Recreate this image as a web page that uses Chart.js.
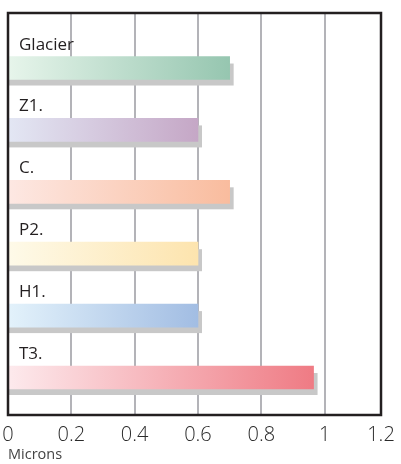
<!DOCTYPE html>
<html>
<head>
<meta charset="utf-8">
<script src="https://cdn.jsdelivr.net/npm/chart.js@4.4.3/dist/chart.umd.min.js"></script>
<style>
  html, body { margin: 0; padding: 0; background: #fff; }
  #wrap { width: 401px; height: 464px; position: relative; }
</style>
</head>
<body>
<div id="wrap"><canvas id="chart"></canvas></div>
<script>
// Dati
const categories = ['Glacier', 'Z1.', 'C.', 'P2.', 'H1.', 'T3.'];
const values     = [0.70, 0.60, 0.70, 0.60, 0.60, 0.965];
const colorsLeft  = ['#e7f5eb', '#e3e7f4', '#fde8e3', '#fefae9', '#e3f2fb', '#fdeaed'];
const colorsRight = ['#96c6b0', '#c5a7c6', '#f9bc9e', '#fde4ae', '#a2bde3', '#ef7b84'];
const xTickValues = [0, 0.2, 0.4, 0.6, 0.8, 1.0, 1.178];
const xTickLabels = ['0', '0.2', '0.4', '0.6', '0.8', '1', '1.2'];
const xTitle = 'Microns';

const FONT = "'Open Sans', 'Noto Sans', sans-serif";

// ombra grigia sotto ogni barra
const shadowPlugin = {
  id: 'barShadow',
  beforeDatasetsDraw(chart) {
    const ctx = chart.ctx;
    const meta = chart.getDatasetMeta(0);
    ctx.save();
    ctx.fillStyle = '#c8c8c8';
    meta.data.forEach(el => {
      const { x, y, base, height } = el.getProps(['x', 'y', 'base', 'height'], true);
      ctx.fillRect(base, y - height / 2 + 7, x - base + 4, height - 1);
    });
    ctx.restore();
  }
};

// etichette sopra le barre + cornice
const labelsPlugin = {
  id: 'barLabels',
  afterDatasetsDraw(chart) {
    const ctx = chart.ctx;
    const area = chart.chartArea;
    const meta = chart.getDatasetMeta(0);
    ctx.save();
    ctx.fillStyle = '#231f20';
    ctx.font = '17px ' + FONT;
    ctx.textBaseline = 'alphabetic';
    ctx.textAlign = 'left';
    meta.data.forEach((el, i) => {
      const { y, height } = el.getProps(['y', 'height'], true);
      ctx.fillText(categories[i], area.left + 11, y - height / 2 - 7);
    });
    ctx.restore();
  },
  afterDraw(chart) {
    const ctx = chart.ctx;
    const a = chart.chartArea;
    ctx.save();
    ctx.strokeStyle = '#231f20';
    ctx.lineWidth = 2.5;
    ctx.strokeRect(a.left, a.top, a.right - a.left, a.bottom - a.top);
    ctx.restore();
  }
};

function barGradient(c) {
  const i = c.dataIndex;
  const chart = c.chart;
  if (!chart.chartArea || !chart.scales.x) return colorsRight[i];
  const xs = chart.scales.x;
  const x0 = xs.getPixelForValue(0);
  const x1 = xs.getPixelForValue(values[i]);
  const g = chart.ctx.createLinearGradient(x0, 0, x1, 0);
  g.addColorStop(0, colorsLeft[i]);
  g.addColorStop(1, colorsRight[i]);
  return g;
}

new Chart(document.getElementById('chart'), {
  type: 'bar',
  data: {
    datasets: [{
      data: values.map((v, i) => ({ x: v, y: i })),
      backgroundColor: barGradient,
      borderWidth: 0,
      barThickness: 23,
    }]
  },
  options: {
    indexAxis: 'y',
    responsive: true,
    maintainAspectRatio: false,
    animation: false,
    layout: { padding: { left: 8, top: 13, right: 20, bottom: 0 } },
    plugins: { legend: { display: false }, tooltip: { enabled: false } },
    scales: {
      y: {
        type: 'linear',
        reverse: true,
        offset: false,
        min: -0.889,
        max: 5.606,
        display: false,
      },
      x: {
        type: 'linear',
        min: 0,
        max: xTickValues[xTickValues.length - 1],
        afterBuildTicks(scale) { scale.ticks = xTickValues.map(v => ({ value: v })); },
        afterFit(scale) { scale.height = 49; scale.paddingLeft = 0; scale.paddingRight = 0; },
        grid: { color: '#b3b3b8', lineWidth: 2, drawTicks: false },
        border: { display: false },
        ticks: {
          padding: 8,
          color: '#2a2a2a',
          font: { family: FONT, size: 20, weight: 300 },
          maxRotation: 0,
          autoSkip: false,
          callback: (v, i) => xTickLabels[i],
        },
        title: {
          display: true,
          text: xTitle,
          align: 'start',
          color: '#444',
          font: { family: FONT, size: 14.5 },
          padding: { top: 0, bottom: 0 },
        },
      }
    }
  },
  plugins: [shadowPlugin, labelsPlugin]
});
</script>
</body>
</html>
